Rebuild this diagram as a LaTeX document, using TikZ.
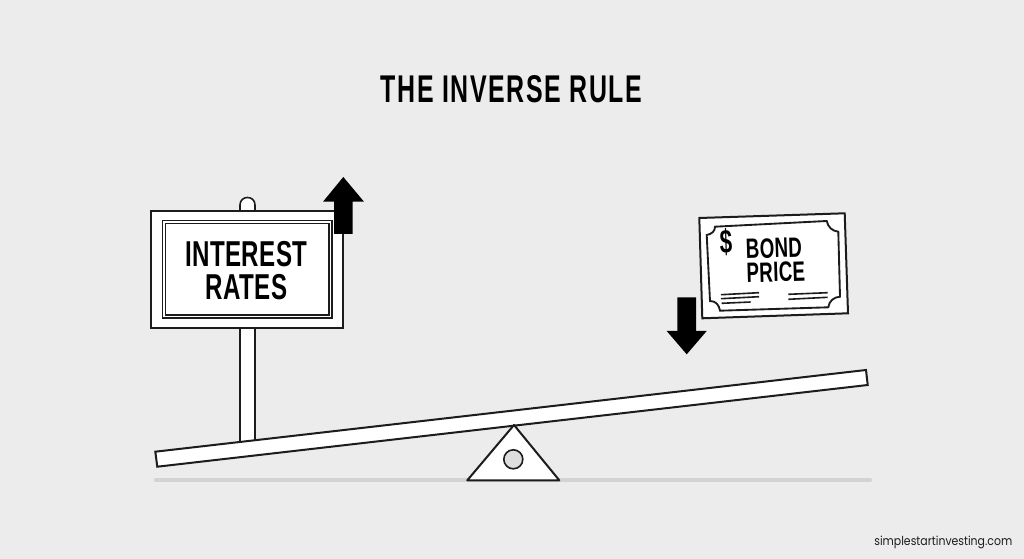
\documentclass[tikz,border=0pt]{standalone}
\usepackage{fontspec}
\setmainfont{Liberation Sans}
\newfontfamily\headfont[FakeStretch=0.645,LetterSpace=4]{Liberation Sans Bold}
\newfontfamily\signfont[FakeStretch=0.67,LetterSpace=1]{Liberation Sans Bold}
\newfontfamily\webfont[FakeStretch=0.88]{Poppins}
\definecolor{paper}{HTML}{ECECEC}
\definecolor{ink}{HTML}{1C1C1C}
\definecolor{groundgray}{HTML}{D3D3D3}
\definecolor{hubgray}{HTML}{DEDEDE}
\tikzset{
  outline/.style={draw=ink,line width=1.5pt,fill=white,line join=miter},
  thinline/.style={draw=ink,line width=1.2pt},
  solidarrow/.style={fill=black,draw=none},
  label/.style={inner sep=0pt,text=black,align=center},
}
\begin{document}
\begin{tikzpicture}[x=0.75pt,y=-0.75pt]
  \useasboundingbox (0,0) rectangle (1024,559);
  \fill[paper] (0,0) rectangle (1024,559);

  % Title
  \node[label,font=\headfont\fontsize{29}{30}\selectfont] (title) at (511.5,89) {THE INVERSE RULE};

  % Ground line
  \coordinate (gl) at (156,480);
  \coordinate (gr) at (870,480);
  \draw[groundgray,line width=3.2pt,line cap=round] (gl) -- (gr);

  % Post with its rounded top
  \draw[thinline,fill=white] (240,445) -- (240,205) .. controls (240,195) and (255,195) .. (255,205) -- (255,445);

  % Seesaw beam
  \draw[outline] (155.3,451.7) -- (866,370) -- (867.7,385) -- (157.3,466.7) -- cycle;

  % Fulcrum
  \draw[outline,line join=round] (514,425) -- (559.3,480.3) -- (467.3,480.3) -- cycle;
  \node[circle,draw=ink,line width=1.2pt,fill=hubgray,minimum size=19pt*0.75,inner sep=0pt] (hub) at (513.3,459.3) {};

  % Interest rates sign
  \draw[outline] (151,211) rectangle (343,328);
  \draw[draw=ink,line width=1.3pt] (162.5,220.5) rectangle (332,318);
  \draw[draw=ink,line width=1pt] (165.5,223.5) rectangle (329,315);
  \node[label,font=\signfont\fontsize{27}{25}\selectfont] (rates) at (246.5,270.3) {INTEREST\\RATES};

  % Up arrow
  \fill[solidarrow] (343.3,177) -- (364,201.7) -- (352.7,201.7) -- (352.7,234) -- (334,234) -- (334,201.7) -- (323,201.7) -- cycle;

  % Bond certificate
  \draw[outline] (699.3,218) -- (844.7,213.3) -- (848,313.3) -- (702.3,318.3) -- cycle;
  \draw[draw=ink,line width=1.4pt]
    (715,226.7) -- (826.7,221)
    .. controls (828,227) and (832,231) .. (838.3,231.7)
    -- (840,296.7)
    .. controls (834,297) and (829,301) .. (828.3,307.3)
    -- (720,310.7)
    .. controls (719,305) and (716,301) .. (710,301)
    -- (706.7,235)
    .. controls (712,234) and (715,231) .. (715,226.7) -- cycle;
  \node[label,font=\signfont\fontsize{25}{25}\selectfont,rotate=1.8] (dollar) at (726,242) {\$};
  \node[label,align=left,font=\signfont\fontsize{21}{18}\selectfont,rotate=1.8] (price) at (775.5,260) {BOND\\PRICE};
  \draw[thinline] (721,294.7) -- (759,292.7);
  \draw[thinline] (721,298.7) -- (759,296.7);
  \draw[thinline] (721.7,303.3) -- (750.7,302);
  \draw[thinline] (788.3,294.3) -- (827.7,292.7);
  \draw[thinline] (788.3,299.3) -- (827.7,297.3);

  % Down arrow
  \fill[solidarrow] (686.7,354.3) -- (706.7,331) -- (696,331) -- (696,297.3) -- (677.3,297.3) -- (677.3,331) -- (666.7,331) -- cycle;

  % Site address
  \node[label,anchor=east,text=ink,font=\webfont\fontsize{9.3}{10}\selectfont] (site) at (1012.5,542.5) {simplestartinvesting.com};
\end{tikzpicture}
\end{document}
